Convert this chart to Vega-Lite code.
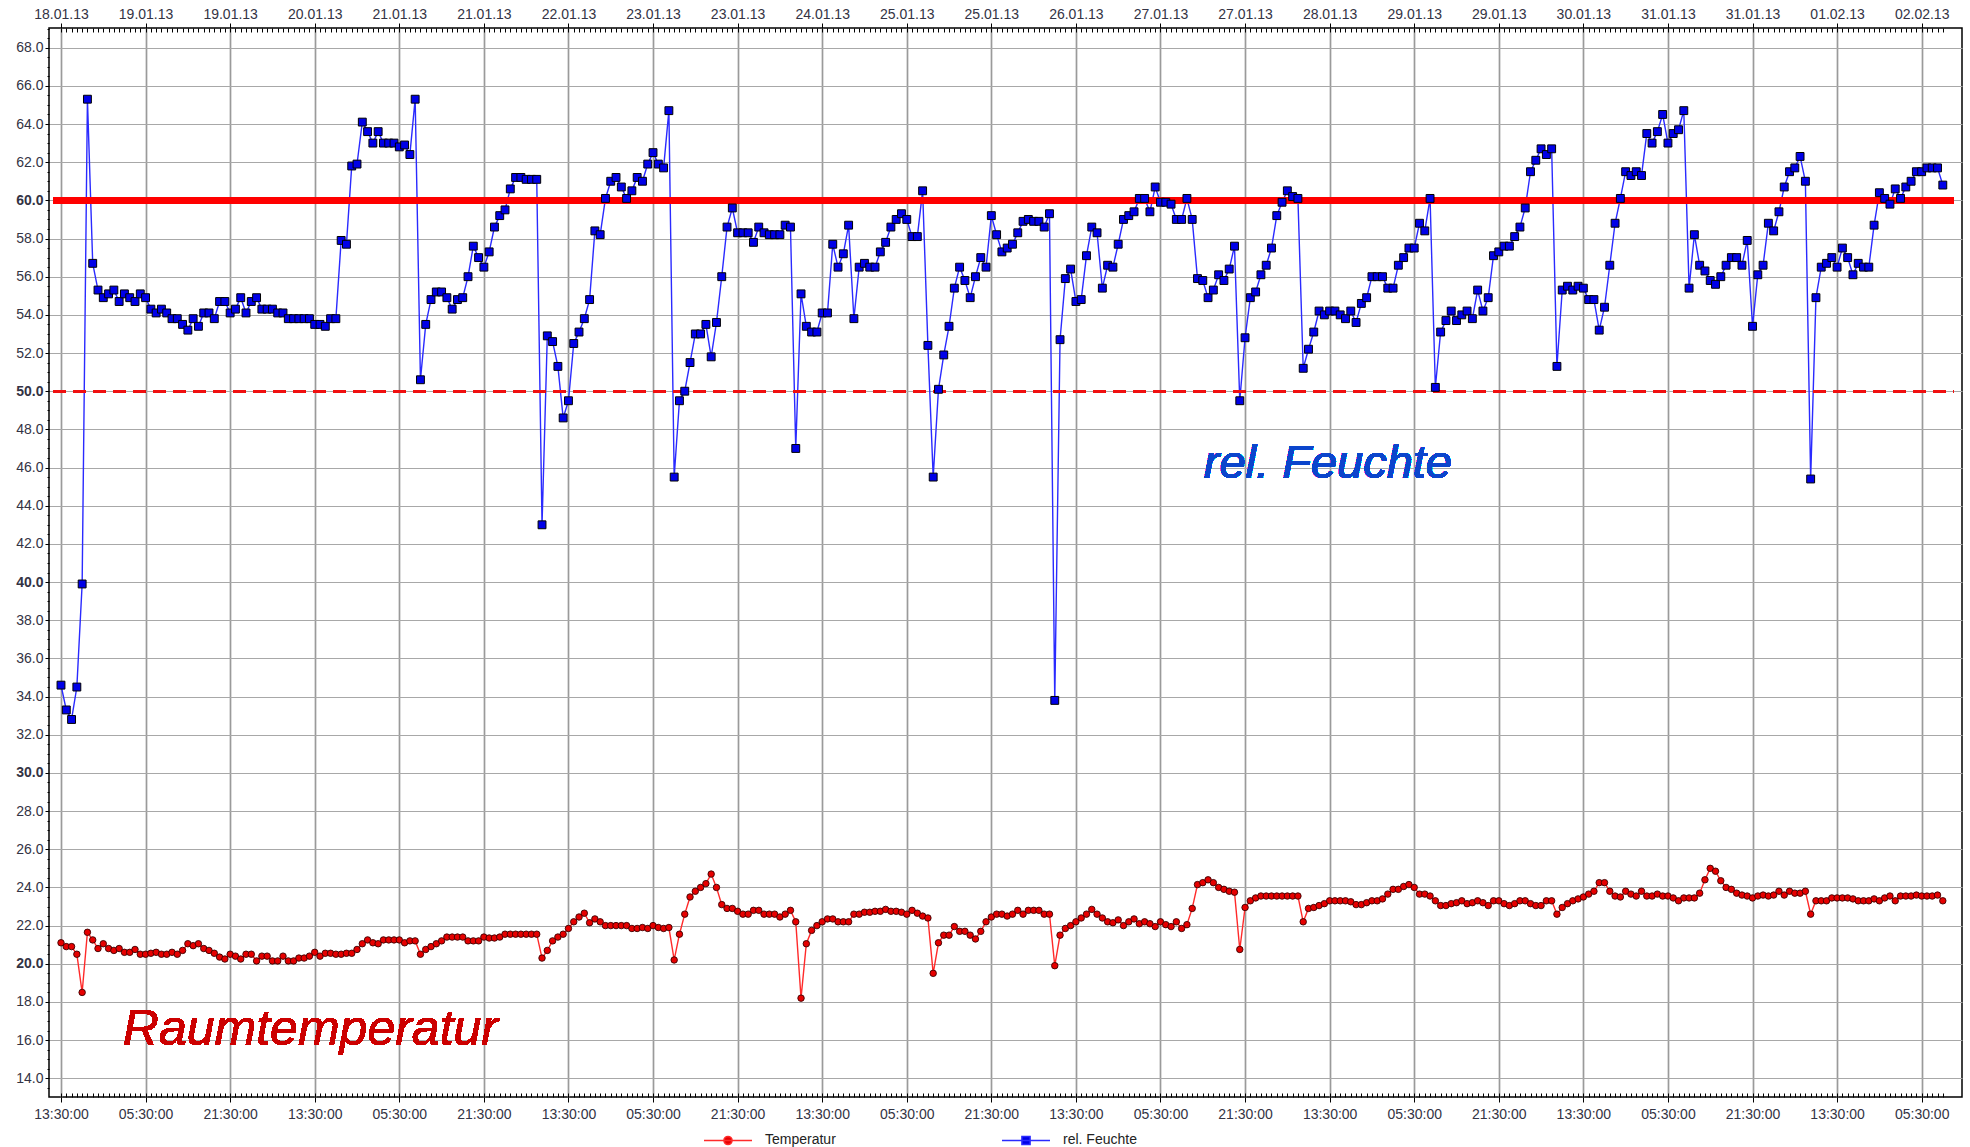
{
"$schema": "https://vega.github.io/schema/vega-lite/v6.json",
"autosize": {"type": "none"},
"padding": {"left": 49, "top": 28, "right": 8, "bottom": 50},
"width": 1913,
"height": 1069,
"background": "white",
"config": {
  "view": {"stroke": "#000000", "strokeWidth": 1.5},
  "axis": {"labelFont": "Liberation Sans", "labelFontSize": 14, "labelColor": "#333344", "tickColor": "#000000", "domain": false, "title": null, "labelFlush": false, "labelOverlap": false}
},
"data": {"values": [
{"h":0,"T":21.1,"RH":34.6},{"h":1,"T":20.9,"RH":33.3},{"h":2,"T":20.9,"RH":32.8},{"h":3,"T":20.5,"RH":34.5},{"h":4,"T":18.5,"RH":39.9},
{"h":5,"T":21.65,"RH":65.3},{"h":6,"T":21.25,"RH":56.7},{"h":7,"T":20.8,"RH":55.3},{"h":8,"T":21.05,"RH":54.9},{"h":9,"T":20.8,"RH":55.1},
{"h":10,"T":20.7,"RH":55.3},{"h":11,"T":20.8,"RH":54.7},{"h":12,"T":20.6,"RH":55.1},{"h":13,"T":20.6,"RH":54.9},{"h":14,"T":20.75,"RH":54.7},
{"h":15,"T":20.5,"RH":55.1},{"h":16,"T":20.5,"RH":54.9},{"h":17,"T":20.55,"RH":54.3},{"h":18,"T":20.6,"RH":54.1},{"h":19,"T":20.5,"RH":54.3},
{"h":20,"T":20.5,"RH":54.1},{"h":21,"T":20.6,"RH":53.8},{"h":22,"T":20.5,"RH":53.8},{"h":23,"T":20.7,"RH":53.5},{"h":24,"T":21.05,"RH":53.2},
{"h":25,"T":20.95,"RH":53.8},{"h":26,"T":21.05,"RH":53.4},{"h":27,"T":20.8,"RH":54.1},{"h":28,"T":20.7,"RH":54.1},{"h":29,"T":20.55,"RH":53.8},
{"h":30,"T":20.35,"RH":54.7},{"h":31,"T":20.25,"RH":54.7},{"h":32,"T":20.5,"RH":54.1},{"h":33,"T":20.4,"RH":54.3},{"h":34,"T":20.25,"RH":54.9},
{"h":35,"T":20.5,"RH":54.1},{"h":36,"T":20.5,"RH":54.7},{"h":37,"T":20.15,"RH":54.9},{"h":38,"T":20.4,"RH":54.3},{"h":39,"T":20.4,"RH":54.3},
{"h":40,"T":20.15,"RH":54.3},{"h":41,"T":20.15,"RH":54.1},{"h":42,"T":20.4,"RH":54.1},{"h":43,"T":20.15,"RH":53.8},{"h":44,"T":20.15,"RH":53.8},
{"h":45,"T":20.3,"RH":53.8},{"h":46,"T":20.3,"RH":53.8},{"h":47,"T":20.4,"RH":53.8},{"h":48,"T":20.6,"RH":53.5},{"h":49,"T":20.4,"RH":53.5},
{"h":50,"T":20.55,"RH":53.4},{"h":51,"T":20.55,"RH":53.8},{"h":52,"T":20.5,"RH":53.8},{"h":53,"T":20.5,"RH":57.9},{"h":54,"T":20.55,"RH":57.7},
{"h":55,"T":20.55,"RH":61.8},{"h":56,"T":20.75,"RH":61.9},{"h":57,"T":21.05,"RH":64.1},{"h":58,"T":21.25,"RH":63.6},{"h":59,"T":21.1,"RH":63.0},
{"h":60,"T":21.05,"RH":63.6},{"h":61,"T":21.25,"RH":63.0},{"h":62,"T":21.25,"RH":63.0},{"h":63,"T":21.25,"RH":63.0},{"h":64,"T":21.25,"RH":62.8},
{"h":65,"T":21.1,"RH":62.9},{"h":66,"T":21.2,"RH":62.4},{"h":67,"T":21.2,"RH":65.3},{"h":68,"T":20.5,"RH":50.6},{"h":69,"T":20.75,"RH":53.5},
{"h":70,"T":20.9,"RH":54.8},{"h":71,"T":21.05,"RH":55.2},{"h":72,"T":21.2,"RH":55.2},{"h":73,"T":21.4,"RH":54.9},{"h":74,"T":21.4,"RH":54.3},
{"h":75,"T":21.4,"RH":54.8},{"h":76,"T":21.4,"RH":54.9},{"h":77,"T":21.2,"RH":56.0},{"h":78,"T":21.2,"RH":57.6},{"h":79,"T":21.2,"RH":57.0},
{"h":80,"T":21.4,"RH":56.5},{"h":81,"T":21.35,"RH":57.3},{"h":82,"T":21.35,"RH":58.6},{"h":83,"T":21.4,"RH":59.2},{"h":84,"T":21.55,"RH":59.5},
{"h":85,"T":21.55,"RH":60.6},{"h":86,"T":21.55,"RH":61.2},{"h":87,"T":21.55,"RH":61.2},{"h":88,"T":21.55,"RH":61.1},{"h":89,"T":21.55,"RH":61.1},
{"h":90,"T":21.55,"RH":61.1},{"h":91,"T":20.3,"RH":43.0},{"h":92,"T":20.7,"RH":52.9},{"h":93,"T":21.2,"RH":52.6},{"h":94,"T":21.4,"RH":51.3},
{"h":95,"T":21.55,"RH":48.6},{"h":96,"T":21.85,"RH":49.5},{"h":97,"T":22.2,"RH":52.5},{"h":98,"T":22.45,"RH":53.1},{"h":99,"T":22.65,"RH":53.8},
{"h":100,"T":22.15,"RH":54.8},{"h":101,"T":22.35,"RH":58.4},{"h":102,"T":22.2,"RH":58.2},{"h":103,"T":22.0,"RH":60.1},{"h":104,"T":22.0,"RH":61.0},
{"h":105,"T":22.0,"RH":61.2},{"h":106,"T":22.0,"RH":60.7},{"h":107,"T":22.0,"RH":60.1},{"h":108,"T":21.85,"RH":60.5},{"h":109,"T":21.85,"RH":61.2},
{"h":110,"T":21.9,"RH":61.0},{"h":111,"T":21.85,"RH":61.9},{"h":112,"T":22.0,"RH":62.5},{"h":113,"T":21.9,"RH":61.9},{"h":114,"T":21.85,"RH":61.7},
{"h":115,"T":21.9,"RH":64.7},{"h":116,"T":20.2,"RH":45.5},{"h":117,"T":21.55,"RH":49.5},{"h":118,"T":22.6,"RH":50.0},{"h":119,"T":23.5,"RH":51.5},
{"h":120,"T":23.8,"RH":53.0},{"h":121,"T":24.0,"RH":53.0},{"h":122,"T":24.2,"RH":53.5},{"h":123,"T":24.7,"RH":51.8},{"h":124,"T":24.0,"RH":53.6},
{"h":125,"T":23.1,"RH":56.0},{"h":126,"T":22.9,"RH":58.6},{"h":127,"T":22.9,"RH":59.6},{"h":128,"T":22.75,"RH":58.3},{"h":129,"T":22.6,"RH":58.3},
{"h":130,"T":22.6,"RH":58.3},{"h":131,"T":22.8,"RH":57.8},{"h":132,"T":22.8,"RH":58.6},{"h":133,"T":22.6,"RH":58.3},{"h":134,"T":22.6,"RH":58.2},
{"h":135,"T":22.6,"RH":58.2},{"h":136,"T":22.45,"RH":58.2},{"h":137,"T":22.6,"RH":58.7},{"h":138,"T":22.8,"RH":58.6},{"h":139,"T":22.2,"RH":47.0},
{"h":140,"T":18.2,"RH":55.1},{"h":141,"T":21.05,"RH":53.4},{"h":142,"T":21.75,"RH":53.1},{"h":143,"T":22.0,"RH":53.1},{"h":144,"T":22.2,"RH":54.1},
{"h":145,"T":22.35,"RH":54.1},{"h":146,"T":22.35,"RH":57.7},{"h":147,"T":22.2,"RH":56.5},{"h":148,"T":22.2,"RH":57.2},{"h":149,"T":22.2,"RH":58.7},
{"h":150,"T":22.6,"RH":53.8},{"h":151,"T":22.6,"RH":56.5},{"h":152,"T":22.7,"RH":56.7},{"h":153,"T":22.7,"RH":56.5},{"h":154,"T":22.75,"RH":56.5},
{"h":155,"T":22.75,"RH":57.3},{"h":156,"T":22.85,"RH":57.8},{"h":157,"T":22.75,"RH":58.6},{"h":158,"T":22.75,"RH":59.0},{"h":159,"T":22.7,"RH":59.3},
{"h":160,"T":22.6,"RH":59.0},{"h":161,"T":22.8,"RH":58.1},{"h":162,"T":22.65,"RH":58.1},{"h":163,"T":22.5,"RH":60.5},{"h":164,"T":22.4,"RH":52.4},
{"h":165,"T":19.5,"RH":45.5},{"h":166,"T":21.1,"RH":50.1},{"h":167,"T":21.5,"RH":51.9},{"h":168,"T":21.5,"RH":53.4},{"h":169,"T":21.95,"RH":55.4},
{"h":170,"T":21.7,"RH":56.5},{"h":171,"T":21.7,"RH":55.8},{"h":172,"T":21.5,"RH":54.9},{"h":173,"T":21.3,"RH":56.0},{"h":174,"T":21.7,"RH":57.0},
{"h":175,"T":22.2,"RH":56.5},{"h":176,"T":22.45,"RH":59.2},{"h":177,"T":22.6,"RH":58.2},{"h":178,"T":22.6,"RH":57.3},{"h":179,"T":22.5,"RH":57.5},
{"h":180,"T":22.6,"RH":57.7},{"h":181,"T":22.8,"RH":58.3},{"h":182,"T":22.6,"RH":58.9},{"h":183,"T":22.8,"RH":59.0},{"h":184,"T":22.8,"RH":58.9},
{"h":185,"T":22.8,"RH":58.9},{"h":186,"T":22.6,"RH":58.6},{"h":187,"T":22.6,"RH":59.3},{"h":188,"T":19.9,"RH":33.8},{"h":189,"T":21.5,"RH":52.7},
{"h":190,"T":21.85,"RH":55.9},{"h":191,"T":22.0,"RH":56.4},{"h":192,"T":22.2,"RH":54.7},{"h":193,"T":22.4,"RH":54.8},{"h":194,"T":22.6,"RH":57.1},
{"h":195,"T":22.85,"RH":58.6},{"h":196,"T":22.6,"RH":58.3},{"h":197,"T":22.4,"RH":55.4},{"h":198,"T":22.2,"RH":56.6},{"h":199,"T":22.15,"RH":56.5},
{"h":200,"T":22.3,"RH":57.7},{"h":201,"T":22.0,"RH":59.0},{"h":202,"T":22.2,"RH":59.2},{"h":203,"T":22.35,"RH":59.4},{"h":204,"T":22.1,"RH":60.1},
{"h":205,"T":22.2,"RH":60.1},{"h":206,"T":22.1,"RH":59.4},{"h":207,"T":21.95,"RH":60.7},{"h":208,"T":22.2,"RH":59.9},{"h":209,"T":22.05,"RH":59.9},
{"h":210,"T":21.95,"RH":59.8},{"h":211,"T":22.2,"RH":59.0},{"h":212,"T":21.85,"RH":59.0},{"h":213,"T":22.05,"RH":60.1},{"h":214,"T":22.9,"RH":59.0},
{"h":215,"T":24.15,"RH":55.9},{"h":216,"T":24.25,"RH":55.8},{"h":217,"T":24.4,"RH":54.9},{"h":218,"T":24.25,"RH":55.3},{"h":219,"T":24.0,"RH":56.1},
{"h":220,"T":23.9,"RH":55.8},{"h":221,"T":23.8,"RH":56.4},{"h":222,"T":23.75,"RH":57.6},{"h":223,"T":20.75,"RH":49.5},{"h":224,"T":22.95,"RH":52.8},
{"h":225,"T":23.3,"RH":54.9},{"h":226,"T":23.45,"RH":55.2},{"h":227,"T":23.55,"RH":56.1},{"h":228,"T":23.55,"RH":56.6},{"h":229,"T":23.55,"RH":57.5},
{"h":230,"T":23.55,"RH":59.2},{"h":231,"T":23.55,"RH":59.9},{"h":232,"T":23.55,"RH":60.5},{"h":233,"T":23.55,"RH":60.2},{"h":234,"T":23.55,"RH":60.1},
{"h":235,"T":22.2,"RH":51.2},{"h":236,"T":22.9,"RH":52.2},{"h":237,"T":22.95,"RH":53.1},{"h":238,"T":23.05,"RH":54.2},{"h":239,"T":23.15,"RH":54.0},
{"h":240,"T":23.3,"RH":54.2},{"h":241,"T":23.3,"RH":54.2},{"h":242,"T":23.3,"RH":54.0},{"h":243,"T":23.3,"RH":53.8},{"h":244,"T":23.25,"RH":54.2},
{"h":245,"T":23.1,"RH":53.6},{"h":246,"T":23.1,"RH":54.6},{"h":247,"T":23.2,"RH":54.9},{"h":248,"T":23.3,"RH":56.0},{"h":249,"T":23.3,"RH":56.0},
{"h":250,"T":23.4,"RH":56.0},{"h":251,"T":23.65,"RH":55.4},{"h":252,"T":23.9,"RH":55.4},{"h":253,"T":23.9,"RH":56.6},{"h":254,"T":24.05,"RH":57.0},
{"h":255,"T":24.15,"RH":57.5},{"h":256,"T":24.0,"RH":57.5},{"h":257,"T":23.65,"RH":58.8},{"h":258,"T":23.65,"RH":58.4},{"h":259,"T":23.55,"RH":60.1},
{"h":260,"T":23.3,"RH":50.2},{"h":261,"T":23.05,"RH":53.1},{"h":262,"T":23.05,"RH":53.7},{"h":263,"T":23.15,"RH":54.2},{"h":264,"T":23.2,"RH":53.7},
{"h":265,"T":23.3,"RH":54.0},{"h":266,"T":23.15,"RH":54.2},{"h":267,"T":23.2,"RH":53.8},{"h":268,"T":23.3,"RH":55.3},{"h":269,"T":23.2,"RH":54.2},
{"h":270,"T":23.05,"RH":54.9},{"h":271,"T":23.3,"RH":57.1},{"h":272,"T":23.3,"RH":57.3},{"h":273,"T":23.15,"RH":57.6},{"h":274,"T":23.05,"RH":57.6},
{"h":275,"T":23.15,"RH":58.1},{"h":276,"T":23.3,"RH":58.6},{"h":277,"T":23.3,"RH":59.6},{"h":278,"T":23.15,"RH":61.5},{"h":279,"T":23.05,"RH":62.1},
{"h":280,"T":23.05,"RH":62.7},{"h":281,"T":23.3,"RH":62.4},{"h":282,"T":23.3,"RH":62.7},{"h":283,"T":22.6,"RH":51.3},{"h":284,"T":22.95,"RH":55.3},
{"h":285,"T":23.15,"RH":55.5},{"h":286,"T":23.3,"RH":55.3},{"h":287,"T":23.4,"RH":55.5},{"h":288,"T":23.5,"RH":55.4},{"h":289,"T":23.65,"RH":54.8},
{"h":290,"T":23.8,"RH":54.8},{"h":291,"T":24.25,"RH":53.2},{"h":292,"T":24.25,"RH":54.4},{"h":293,"T":23.8,"RH":56.6},{"h":294,"T":23.55,"RH":58.8},
{"h":295,"T":23.5,"RH":60.1},{"h":296,"T":23.8,"RH":61.5},{"h":297,"T":23.65,"RH":61.3},{"h":298,"T":23.55,"RH":61.5},{"h":299,"T":23.8,"RH":61.3},
{"h":300,"T":23.55,"RH":63.5},{"h":301,"T":23.55,"RH":63.0},{"h":302,"T":23.65,"RH":63.6},{"h":303,"T":23.55,"RH":64.5},{"h":304,"T":23.55,"RH":63.0},
{"h":305,"T":23.45,"RH":63.5},{"h":306,"T":23.3,"RH":63.7},{"h":307,"T":23.45,"RH":64.7},{"h":308,"T":23.45,"RH":55.4},{"h":309,"T":23.45,"RH":58.2},
{"h":310,"T":23.7,"RH":56.6},{"h":311,"T":24.4,"RH":56.3},{"h":312,"T":25.0,"RH":55.8},{"h":313,"T":24.85,"RH":55.6},{"h":314,"T":24.35,"RH":56.0},
{"h":315,"T":24.0,"RH":56.6},{"h":316,"T":23.9,"RH":57.0},{"h":317,"T":23.7,"RH":57.0},{"h":318,"T":23.6,"RH":56.6},{"h":319,"T":23.55,"RH":57.9},
{"h":320,"T":23.45,"RH":53.4},{"h":321,"T":23.55,"RH":56.1},{"h":322,"T":23.6,"RH":56.6},{"h":323,"T":23.55,"RH":58.8},{"h":324,"T":23.6,"RH":58.4},
{"h":325,"T":23.8,"RH":59.4},{"h":326,"T":23.6,"RH":60.7},{"h":327,"T":23.8,"RH":61.5},{"h":328,"T":23.7,"RH":61.7},{"h":329,"T":23.7,"RH":62.3},
{"h":330,"T":23.8,"RH":61.0},{"h":331,"T":22.6,"RH":45.4},{"h":332,"T":23.3,"RH":54.9},{"h":333,"T":23.3,"RH":56.5},{"h":334,"T":23.3,"RH":56.7},
{"h":335,"T":23.45,"RH":57.0},{"h":336,"T":23.45,"RH":56.5},{"h":337,"T":23.45,"RH":57.5},{"h":338,"T":23.45,"RH":57.0},{"h":339,"T":23.4,"RH":56.1},
{"h":340,"T":23.3,"RH":56.7},{"h":341,"T":23.3,"RH":56.5},{"h":342,"T":23.3,"RH":56.5},{"h":343,"T":23.4,"RH":58.7},{"h":344,"T":23.3,"RH":60.4},
{"h":345,"T":23.45,"RH":60.1},{"h":346,"T":23.55,"RH":59.8},{"h":347,"T":23.3,"RH":60.6},{"h":348,"T":23.55,"RH":60.1},{"h":349,"T":23.55,"RH":60.7},
{"h":350,"T":23.55,"RH":61.0},{"h":351,"T":23.6,"RH":61.5},{"h":352,"T":23.55,"RH":61.5},{"h":353,"T":23.55,"RH":61.7},{"h":354,"T":23.55,"RH":61.7},
{"h":355,"T":23.6,"RH":61.7},{"h":356,"T":23.3,"RH":60.8}
]},
"resolve": {"axis": {"x": "independent", "y": "independent"}},
"layer": [
  {
    "mark": {"type": "line", "strokeWidth": 1.4},
    "encoding": {
      "x": {"field": "h", "type": "quantitative", "scale": {"domain": [-2.27, 359.63], "nice": false, "zero": false},
        "axis": {"orient": "bottom", "values": [0,16,32,48,64,80,96,112,128,144,160,176,192,208,224,240,256,272,288,304,320,336,352],
          "labelExpr": "timeFormat(time(datetime(2013,0,18,13,30,0,0)) + datum.value*3600000, '%H:%M:%S')",
          "grid": true, "gridColor": "#9a9a9a", "gridWidth": 1.7, "tickSize": 5, "labelPadding": 5}},
      "y": {"field": "T", "type": "quantitative", "scale": {"domain": [13.02, 69.03], "nice": false, "zero": false},
        "axis": {"orient": "left", "values": [14,16,18,20,22,24,26,28,30,32,34,36,38,40,42,44,46,48,50,52,54,56,58,60,62,64,66,68],
          "format": ".1f", "grid": true, "gridColor": "#a8a8a8", "gridWidth": 1, "tickSize": 4, "labelPadding": 2,
          "labelFontWeight": {"condition": {"test": "datum.value % 10 === 0", "value": "bold"}, "value": "normal"}}},
      "color": {"datum": "Temperatur", "type": "nominal",
        "scale": {"domain": ["Temperatur", "rel. Feuchte"], "range": ["#ff2a2a", "#2a2aff"]},
        "legend": {"orient": "none", "legendX": 654, "legendY": 1087, "direction": "horizontal", "title": null,
          "symbolSize": 2304, "symbolStrokeWidth": 1.5, "labelFont": "Liberation Sans", "labelFontSize": 14, "labelColor": "#222222",
          "labelOffset": 12, "columnPadding": 163, "padding": 0,
          "encode": {"symbols": {"update": {
            "shape": {"signal": "datum.value === 'Temperatur' ? 'M-1,0H1M-0.17,0A0.17,0.17,0,1,0,0.17,0A0.17,0.17,0,1,0,-0.17,0Z' : 'M-1,0H1M-0.17,-0.17H0.17V0.17H-0.17Z'"},
            "fill": {"signal": "datum.value === 'Temperatur' ? '#e60000' : '#0000e6'"}
          }}}}}
    }
  },
  {
    "mark": {"type": "line", "strokeWidth": 1.4},
    "encoding": {
      "x": {"field": "h", "type": "quantitative",
        "axis": {"orient": "top", "values": [0,16,32,48,64,80,96,112,128,144,160,176,192,208,224,240,256,272,288,304,320,336,352],
          "labelExpr": "timeFormat(time(datetime(2013,0,18,13,30,0,0)) + datum.value*3600000, '%d.%m.%y')",
          "grid": false, "tickSize": 5, "labelPadding": 2}},
      "y": {"field": "RH", "type": "quantitative",
        "axis": {"orient": "left", "tickCount": 112, "labels": false, "grid": false, "tickSize": 2}},
      "color": {"datum": "rel. Feuchte", "type": "nominal"}
    }
  },
  {
    "mark": {"type": "rule", "color": "#ff0000", "strokeWidth": 6},
    "encoding": {
      "x": {"datum": -1.5, "type": "quantitative", "axis": null},
      "x2": {"datum": 358.1},
      "y": {"datum": 60, "type": "quantitative", "axis": null}
    }
  },
  {
    "mark": {"type": "rule", "color": "#f01010", "strokeWidth": 2.5, "strokeDash": [12, 8]},
    "encoding": {
      "x": {"datum": -1.5, "type": "quantitative", "axis": null},
      "x2": {"datum": 358.1},
      "y": {"datum": 50, "type": "quantitative", "axis": null}
    }
  },
  {
    "mark": {"type": "point", "shape": "circle", "size": 42, "filled": true, "fill": "#e60000", "stroke": "#3a0000", "strokeWidth": 0.9, "opacity": 1},
    "encoding": {
      "x": {"field": "h", "type": "quantitative",
        "axis": {"orient": "bottom", "labels": false, "grid": false, "tickSize": -4,
          "values": [0,1,2,3,4,5,6,7,8,9,10,11,12,13,14,15,16,17,18,19,20,21,22,23,24,25,26,27,28,29,30,31,32,33,34,35,36,37,38,39,40,41,42,43,44,45,46,47,48,49,50,51,52,53,54,55,56,57,58,59,60,61,62,63,64,65,66,67,68,69,70,71,72,73,74,75,76,77,78,79,80,81,82,83,84,85,86,87,88,89,90,91,92,93,94,95,96,97,98,99,100,101,102,103,104,105,106,107,108,109,110,111,112,113,114,115,116,117,118,119,120,121,122,123,124,125,126,127,128,129,130,131,132,133,134,135,136,137,138,139,140,141,142,143,144,145,146,147,148,149,150,151,152,153,154,155,156,157,158,159,160,161,162,163,164,165,166,167,168,169,170,171,172,173,174,175,176,177,178,179,180,181,182,183,184,185,186,187,188,189,190,191,192,193,194,195,196,197,198,199,200,201,202,203,204,205,206,207,208,209,210,211,212,213,214,215,216,217,218,219,220,221,222,223,224,225,226,227,228,229,230,231,232,233,234,235,236,237,238,239,240,241,242,243,244,245,246,247,248,249,250,251,252,253,254,255,256,257,258,259,260,261,262,263,264,265,266,267,268,269,270,271,272,273,274,275,276,277,278,279,280,281,282,283,284,285,286,287,288,289,290,291,292,293,294,295,296,297,298,299,300,301,302,303,304,305,306,307,308,309,310,311,312,313,314,315,316,317,318,319,320,321,322,323,324,325,326,327,328,329,330,331,332,333,334,335,336,337,338,339,340,341,342,343,344,345,346,347,348,349,350,351,352,353,354,355,356]}},
      "y": {"field": "T", "type": "quantitative", "axis": null}
    }
  },
  {
    "mark": {"type": "point", "shape": "square", "size": 62, "filled": true, "fill": "#0000e8", "stroke": "#000000", "strokeWidth": 1, "opacity": 1},
    "encoding": {
      "x": {"field": "h", "type": "quantitative",
        "axis": {"orient": "top", "labels": false, "grid": false, "tickSize": -4,
          "values": [0,1,2,3,4,5,6,7,8,9,10,11,12,13,14,15,16,17,18,19,20,21,22,23,24,25,26,27,28,29,30,31,32,33,34,35,36,37,38,39,40,41,42,43,44,45,46,47,48,49,50,51,52,53,54,55,56,57,58,59,60,61,62,63,64,65,66,67,68,69,70,71,72,73,74,75,76,77,78,79,80,81,82,83,84,85,86,87,88,89,90,91,92,93,94,95,96,97,98,99,100,101,102,103,104,105,106,107,108,109,110,111,112,113,114,115,116,117,118,119,120,121,122,123,124,125,126,127,128,129,130,131,132,133,134,135,136,137,138,139,140,141,142,143,144,145,146,147,148,149,150,151,152,153,154,155,156,157,158,159,160,161,162,163,164,165,166,167,168,169,170,171,172,173,174,175,176,177,178,179,180,181,182,183,184,185,186,187,188,189,190,191,192,193,194,195,196,197,198,199,200,201,202,203,204,205,206,207,208,209,210,211,212,213,214,215,216,217,218,219,220,221,222,223,224,225,226,227,228,229,230,231,232,233,234,235,236,237,238,239,240,241,242,243,244,245,246,247,248,249,250,251,252,253,254,255,256,257,258,259,260,261,262,263,264,265,266,267,268,269,270,271,272,273,274,275,276,277,278,279,280,281,282,283,284,285,286,287,288,289,290,291,292,293,294,295,296,297,298,299,300,301,302,303,304,305,306,307,308,309,310,311,312,313,314,315,316,317,318,319,320,321,322,323,324,325,326,327,328,329,330,331,332,333,334,335,336,337,338,339,340,341,342,343,344,345,346,347,348,349,350,351,352,353,354,355,356]}},
      "y": {"field": "RH", "type": "quantitative", "axis": null}
    }
  },
  {
    "mark": {"type": "text", "text": "rel. Feuchte", "font": "Liberation Sans", "fontSize": 47, "fontStyle": "italic", "color": "#0b45cc", "align": "left", "baseline": "alphabetic"},
    "encoding": {
      "x": {"datum": 216.2, "type": "quantitative", "axis": null},
      "y": {"datum": 45.44, "type": "quantitative", "axis": null}
    }
  },
  {
    "mark": {"type": "text", "text": "Raumtemperatur", "font": "Liberation Sans", "fontSize": 50, "fontStyle": "italic", "color": "#cc0000", "align": "left", "baseline": "alphabetic"},
    "encoding": {
      "x": {"datum": 11.7, "type": "quantitative", "axis": null},
      "y": {"datum": 15.74, "type": "quantitative", "axis": null}
    }
  }
]
}
